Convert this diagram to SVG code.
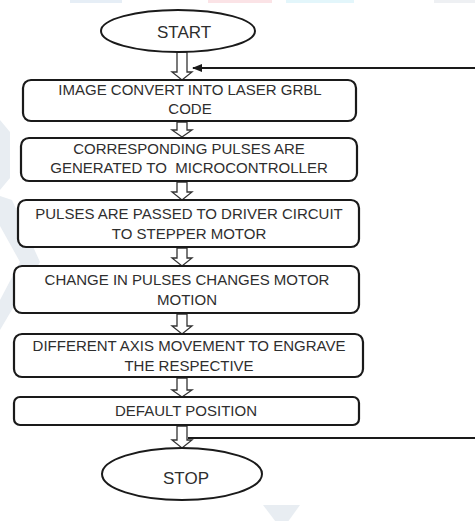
<svg xmlns="http://www.w3.org/2000/svg" width="475" height="521" viewBox="0 0 475 521">
<defs>
<style>
.box{fill:#fff;stroke:#1a1a1a;stroke-width:2.2}
.term{fill:#fff;stroke:#1a1a1a;stroke-width:2}
.t{font-family:"Liberation Sans",Arial,sans-serif;font-size:15px;fill:#2e2e2e;text-anchor:middle;white-space:pre}
.tt{font-family:"Liberation Sans",Arial,sans-serif;font-size:17px;fill:#2e2e2e;text-anchor:middle}
.blk{fill:#fff;stroke:#333;stroke-width:1.3;stroke-linejoin:miter}
.fb{stroke:#1a1a1a;stroke-width:2;fill:none}
.wm{fill:#e8edf2}
</style>
<marker id="ah" markerWidth="10" markerHeight="8" refX="9" refY="4" orient="auto" markerUnits="userSpaceOnUse">
<path d="M0,0 L10,4 L0,8 Z" fill="#1a1a1a"/>
</marker>
</defs>
<rect width="475" height="521" fill="#fff"/>
<g id="watermark">
<rect x="70" y="0" width="52" height="3" fill="#e6eef6"/>
<rect x="208" y="0" width="64" height="3" fill="#fbe3e6"/>
<rect x="286" y="0" width="68" height="3" fill="#e3f6fb"/>
<rect x="434" y="0" width="41" height="3" fill="#eef0f3"/>
<polygon class="wm" points="0,120 10,132 10,178 0,190"/>
<polygon class="wm" points="0,196 12,200 40,262 0,330 0,300 20,262 0,226"/>
<polygon class="wm" points="263,505 300,505 282,530"/>
</g>
<g id="connectors">
<polygon class="blk" points="177,52 187,52 187,72 192,72 182,80 172,72 177,72"/>
<polygon class="blk" points="177,122 187,122 187,130 192,130 182,137 172,130 177,130"/>
<polygon class="blk" points="177,182 187,182 187,192 192,192 182,200 172,192 177,192"/>
<polygon class="blk" points="177,248 187,248 187,258 192,258 182,266 172,258 177,258"/>
<polygon class="blk" points="177,314 187,314 187,326 192,326 182,334 172,326 177,326"/>
<polygon class="blk" points="177,378 187,378 187,390 192,390 182,397 172,390 177,390"/>
<polygon class="blk" points="177,426 187,426 187,440 192,440 182,448 172,440 177,440"/>
<line class="fb" x1="475" y1="68" x2="193" y2="68" marker-end="url(#ah)"/>
<line class="fb" x1="475" y1="438" x2="188" y2="438"/>
</g>
<g id="start">
<ellipse class="term" cx="178" cy="31" rx="77" ry="21"/>
<text class="tt" x="184" y="38">START</text>
</g>
<g id="n1">
<rect class="box" x="23" y="80" width="333" height="41" rx="8"/>
<text class="t" x="190" y="95">IMAGE CONVERT INTO LASER GRBL</text>
<text class="t" x="190" y="114">CODE</text>
</g>
<g id="n2">
<rect class="box" x="21" y="138" width="336" height="43" rx="8"/>
<text class="t" x="189" y="154">CORRESPONDING PULSES ARE</text>
<text class="t" x="189" y="173">GENERATED TO  MICROCONTROLLER</text>
</g>
<g id="n3">
<rect class="box" x="18" y="200" width="341" height="47" rx="8"/>
<text class="t" x="189" y="219">PULSES ARE PASSED TO DRIVER CIRCUIT</text>
<text class="t" x="189" y="239">TO STEPPER MOTOR</text>
</g>
<g id="n4">
<rect class="box" x="14" y="266" width="345" height="47" rx="8"/>
<text class="t" x="187" y="285">CHANGE IN PULSES CHANGES MOTOR</text>
<text class="t" x="187" y="305">MOTION</text>
</g>
<g id="n5">
<rect class="box" x="14" y="334" width="349" height="43" rx="8"/>
<text class="t" x="189" y="351">DIFFERENT AXIS MOVEMENT TO ENGRAVE</text>
<text class="t" x="189" y="371">THE RESPECTIVE</text>
</g>
<g id="n6">
<rect class="box" x="14" y="397" width="345" height="28" rx="6"/>
<text class="t" x="186" y="416">DEFAULT POSITION</text>
</g>
<g id="stop">
<ellipse class="term" cx="182" cy="474" rx="80" ry="26"/>
<text class="tt" x="186" y="484">STOP</text>
</g>
</svg>
